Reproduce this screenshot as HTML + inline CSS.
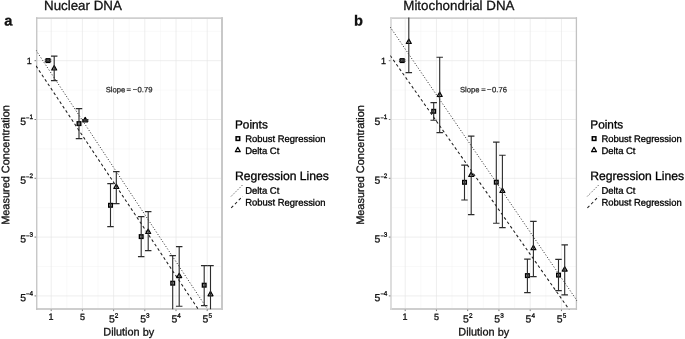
<!DOCTYPE html>
<html><head><meta charset="utf-8"><title>chart</title>
<style>
html,body{margin:0;padding:0;background:#fff;}
body{width:685px;height:339px;overflow:hidden;font-family:"Liberation Sans",sans-serif;}
svg{display:block;will-change:transform;font-family:"Liberation Sans",sans-serif;}
</style></head><body>
<svg text-rendering="geometricPrecision" width="685" height="339" viewBox="0 0 685 339">
<rect width="685" height="339" fill="#fff"/>
<text x="44.00" y="10.00" transform="rotate(0.05 44.00 10.00)" font-size="13.33" fill="#111" stroke="#111" stroke-width="0.3">Nuclear DNA</text>
<text x="403.30" y="10.00" transform="rotate(0.05 403.30 10.00)" font-size="13.33" fill="#111" stroke="#111" stroke-width="0.3">Mitochondrial DNA</text>
<text x="4.30" y="25.60" transform="rotate(0.05 4.30 25.60)" font-size="14.6" font-weight="bold" fill="#111" stroke="#111" stroke-width="0.3">a</text>
<text x="353.90" y="25.60" transform="rotate(0.05 353.90 25.60)" font-size="14.6" font-weight="bold" fill="#111" stroke="#111" stroke-width="0.3">b</text>
<text transform="translate(9.3,164.9) rotate(-89.95)" x="-59.95" y="0" font-size="10.95" fill="#111" stroke="#111" stroke-width="0.3">Measured Concentration</text>
<text transform="translate(364,164.9) rotate(-89.95)" x="-59.95" y="0" font-size="10.95" fill="#111" stroke="#111" stroke-width="0.3">Measured Concentration</text>
<text x="103.30" y="335.60" transform="rotate(0.05 103.30 335.60)" font-size="10.9" fill="#111" stroke="#111" stroke-width="0.3">Dilution by</text>
<text x="458.30" y="335.60" transform="rotate(0.05 458.30 335.60)" font-size="10.9" fill="#111" stroke="#111" stroke-width="0.3">Dilution by</text>
<rect x="36.7" y="18.2" width="185.4" height="290.6" fill="#fff"/>
<line x1="66.80" y1="18.2" x2="66.80" y2="308.8" stroke="#f3f3f3" stroke-width="0.5"/>
<line x1="98.00" y1="18.2" x2="98.00" y2="308.8" stroke="#f3f3f3" stroke-width="0.5"/>
<line x1="129.20" y1="18.2" x2="129.20" y2="308.8" stroke="#f3f3f3" stroke-width="0.5"/>
<line x1="160.40" y1="18.2" x2="160.40" y2="308.8" stroke="#f3f3f3" stroke-width="0.5"/>
<line x1="191.60" y1="18.2" x2="191.60" y2="308.8" stroke="#f3f3f3" stroke-width="0.5"/>
<line x1="36.7" y1="31.30" x2="222.10000000000002" y2="31.30" stroke="#f3f3f3" stroke-width="0.5"/>
<line x1="36.7" y1="90.10" x2="222.10000000000002" y2="90.10" stroke="#f3f3f3" stroke-width="0.5"/>
<line x1="36.7" y1="148.90" x2="222.10000000000002" y2="148.90" stroke="#f3f3f3" stroke-width="0.5"/>
<line x1="36.7" y1="207.70" x2="222.10000000000002" y2="207.70" stroke="#f3f3f3" stroke-width="0.5"/>
<line x1="36.7" y1="266.50" x2="222.10000000000002" y2="266.50" stroke="#f3f3f3" stroke-width="0.5"/>
<line x1="51.20" y1="18.2" x2="51.20" y2="308.8" stroke="#e4e4e4" stroke-width="0.65"/>
<line x1="82.40" y1="18.2" x2="82.40" y2="308.8" stroke="#e4e4e4" stroke-width="0.65"/>
<line x1="113.60" y1="18.2" x2="113.60" y2="308.8" stroke="#e4e4e4" stroke-width="0.65"/>
<line x1="144.80" y1="18.2" x2="144.80" y2="308.8" stroke="#e4e4e4" stroke-width="0.65"/>
<line x1="176.00" y1="18.2" x2="176.00" y2="308.8" stroke="#e4e4e4" stroke-width="0.65"/>
<line x1="207.20" y1="18.2" x2="207.20" y2="308.8" stroke="#e4e4e4" stroke-width="0.65"/>
<line x1="36.7" y1="60.70" x2="222.10000000000002" y2="60.70" stroke="#e4e4e4" stroke-width="0.65"/>
<line x1="36.7" y1="119.50" x2="222.10000000000002" y2="119.50" stroke="#e4e4e4" stroke-width="0.65"/>
<line x1="36.7" y1="178.30" x2="222.10000000000002" y2="178.30" stroke="#e4e4e4" stroke-width="0.65"/>
<line x1="36.7" y1="237.10" x2="222.10000000000002" y2="237.10" stroke="#e4e4e4" stroke-width="0.65"/>
<line x1="36.7" y1="295.90" x2="222.10000000000002" y2="295.90" stroke="#e4e4e4" stroke-width="0.65"/>
<path d="M36.10,18.1H223.00" fill="none" stroke="#cfcfcf" stroke-width="1.6"/>
<path d="M36.10,309.0H223.00" fill="none" stroke="#cecece" stroke-width="2"/>
<path d="M36.75,17.2V310" fill="none" stroke="#c2c2c2" stroke-width="1.3"/>
<path d="M222.0,17.2V310" fill="none" stroke="#c8c8c8" stroke-width="2.0"/>
<clipPath id="c36"><rect x="35.900000000000006" y="17.4" width="187.0" height="291.8"/></clipPath>
<g clip-path="url(#c36)">
<line x1="36.00" y1="65.90" x2="230.00" y2="356.90" stroke="#1e1e1e" stroke-width="1.05" stroke-dasharray="2.85,2.5"/>
<line x1="36.00" y1="50.29" x2="230.00" y2="343.23" stroke="#262626" stroke-width="1.0" stroke-dasharray="1.0,1.9"/>
<rect x="46.20" y="58.80" width="3.6" height="3.6" fill="#bbb" stroke="#000" stroke-width="1.4"/>
<path d="M54.20,65.60L56.70,70.00H51.70Z" fill="#bbb" stroke="#000" stroke-width="1.2" stroke-linejoin="round"/>
<rect x="77.20" y="121.80" width="3.6" height="3.6" fill="#bbb" stroke="#000" stroke-width="1.4"/>
<path d="M85.20,117.40L87.70,121.80H82.70Z" fill="#bbb" stroke="#000" stroke-width="1.2" stroke-linejoin="round"/>
<rect x="108.70" y="203.50" width="3.6" height="3.6" fill="#bbb" stroke="#000" stroke-width="1.4"/>
<path d="M116.30,184.10L118.80,188.50H113.80Z" fill="#bbb" stroke="#000" stroke-width="1.2" stroke-linejoin="round"/>
<rect x="139.40" y="234.80" width="3.6" height="3.6" fill="#bbb" stroke="#000" stroke-width="1.4"/>
<path d="M148.20,229.10L150.70,233.50H145.70Z" fill="#bbb" stroke="#000" stroke-width="1.2" stroke-linejoin="round"/>
<rect x="170.90" y="281.40" width="3.6" height="3.6" fill="#bbb" stroke="#000" stroke-width="1.4"/>
<path d="M179.20,273.20L181.70,277.60H176.70Z" fill="#bbb" stroke="#000" stroke-width="1.2" stroke-linejoin="round"/>
<rect x="202.40" y="283.40" width="3.6" height="3.6" fill="#bbb" stroke="#000" stroke-width="1.4"/>
<path d="M210.50,291.40L213.00,295.80H208.00Z" fill="#bbb" stroke="#000" stroke-width="1.2" stroke-linejoin="round"/>
<path d="M44.75,59.80H51.25M48.00,59.80V61.40M44.75,61.40H51.25" stroke="#2c2c2c" stroke-width="1.12" fill="none"/>
<path d="M50.95,56.10H57.45M54.20,56.10V80.60M50.95,80.60H57.45" stroke="#2c2c2c" stroke-width="1.12" fill="none"/>
<path d="M75.75,108.60H82.25M79.00,108.60V138.60M75.75,138.60H82.25" stroke="#2c2c2c" stroke-width="1.12" fill="none"/>
<path d="M81.95,119.50H88.45M85.20,119.50V120.90M81.95,120.90H88.45" stroke="#2c2c2c" stroke-width="1.12" fill="none"/>
<path d="M107.25,183.60H113.75M110.50,183.60V226.60M107.25,226.60H113.75" stroke="#2c2c2c" stroke-width="1.12" fill="none"/>
<path d="M113.05,171.60H119.55M116.30,171.60V203.60M113.05,203.60H119.55" stroke="#2c2c2c" stroke-width="1.12" fill="none"/>
<path d="M137.95,216.60H144.45M141.20,216.60V256.60M137.95,256.60H144.45" stroke="#2c2c2c" stroke-width="1.12" fill="none"/>
<path d="M144.95,211.60H151.45M148.20,211.60V250.60M144.95,250.60H151.45" stroke="#2c2c2c" stroke-width="1.12" fill="none"/>
<path d="M169.45,255.60H175.95M172.70,255.60V320.60M169.45,320.60H175.95" stroke="#2c2c2c" stroke-width="1.12" fill="none"/>
<path d="M175.95,246.60H182.45M179.20,246.60V306.30M175.95,306.30H182.45" stroke="#2c2c2c" stroke-width="1.12" fill="none"/>
<path d="M200.95,265.60H207.45M204.20,265.60V305.60M200.95,305.60H207.45" stroke="#2c2c2c" stroke-width="1.12" fill="none"/>
<path d="M207.25,265.60H213.75M210.50,265.60V320.60M207.25,320.60H213.75" stroke="#2c2c2c" stroke-width="1.12" fill="none"/>
</g>
<line x1="51.20" y1="309.6" x2="51.20" y2="311.1" stroke="#555" stroke-width="0.8"/>
<text x="48.50" y="319.80" transform="rotate(0.05 48.50 319.80)" font-size="9.0" fill="#111" stroke="#111" stroke-width="0.3">1</text>
<line x1="82.40" y1="309.6" x2="82.40" y2="311.1" stroke="#555" stroke-width="0.8"/>
<text x="79.90" y="319.90" transform="rotate(0.05 79.90 319.90)" font-size="9.0" fill="#111" stroke="#111" stroke-width="0.3">5</text>
<line x1="113.60" y1="309.6" x2="113.60" y2="311.1" stroke="#555" stroke-width="0.8"/>
<text x="108.98" y="322.60" transform="rotate(0.05 108.98 322.60)" font-size="10.4" fill="#111" stroke="#111" stroke-width="0.3">5</text><text x="114.86" y="317.70" transform="rotate(0.05 114.86 317.70)" font-size="6.4" fill="#111" stroke="#111" stroke-width="0.3">2</text>
<line x1="144.80" y1="309.6" x2="144.80" y2="311.1" stroke="#555" stroke-width="0.8"/>
<text x="140.18" y="322.60" transform="rotate(0.05 140.18 322.60)" font-size="10.4" fill="#111" stroke="#111" stroke-width="0.3">5</text><text x="146.06" y="317.70" transform="rotate(0.05 146.06 317.70)" font-size="6.4" fill="#111" stroke="#111" stroke-width="0.3">3</text>
<line x1="176.00" y1="309.6" x2="176.00" y2="311.1" stroke="#555" stroke-width="0.8"/>
<text x="171.38" y="322.60" transform="rotate(0.05 171.38 322.60)" font-size="10.4" fill="#111" stroke="#111" stroke-width="0.3">5</text><text x="177.26" y="317.70" transform="rotate(0.05 177.26 317.70)" font-size="6.4" fill="#111" stroke="#111" stroke-width="0.3">4</text>
<line x1="207.20" y1="309.6" x2="207.20" y2="311.1" stroke="#555" stroke-width="0.8"/>
<text x="202.58" y="322.60" transform="rotate(0.05 202.58 322.60)" font-size="10.4" fill="#111" stroke="#111" stroke-width="0.3">5</text><text x="208.46" y="317.70" transform="rotate(0.05 208.46 317.70)" font-size="6.4" fill="#111" stroke="#111" stroke-width="0.3">5</text>
<line x1="34.5" y1="60.70" x2="36.1" y2="60.70" stroke="#555" stroke-width="0.8"/>
<text x="26.79" y="64.10" transform="rotate(0.05 26.79 64.10)" font-size="9.0" fill="#111" stroke="#111" stroke-width="0.3">1</text>
<line x1="34.5" y1="119.50" x2="36.1" y2="119.50" stroke="#555" stroke-width="0.8"/>
<text x="20.19" y="124.90" transform="rotate(0.05 20.19 124.90)" font-size="10.4" fill="#111" stroke="#111" stroke-width="0.3">5</text><text transform="translate(26.08,120.00) scale(0.9,1)" font-size="6.4" fill="#111" stroke="#111" stroke-width="0.3">−</text><text x="29.44" y="119.10" transform="rotate(0.05 29.44 119.10)" font-size="6.4" fill="#111" stroke="#111" stroke-width="0.3">1</text>
<line x1="34.5" y1="178.30" x2="36.1" y2="178.30" stroke="#555" stroke-width="0.8"/>
<text x="20.19" y="183.70" transform="rotate(0.05 20.19 183.70)" font-size="10.4" fill="#111" stroke="#111" stroke-width="0.3">5</text><text transform="translate(26.08,178.80) scale(0.9,1)" font-size="6.4" fill="#111" stroke="#111" stroke-width="0.3">−</text><text x="29.44" y="177.90" transform="rotate(0.05 29.44 177.90)" font-size="6.4" fill="#111" stroke="#111" stroke-width="0.3">2</text>
<line x1="34.5" y1="237.10" x2="36.1" y2="237.10" stroke="#555" stroke-width="0.8"/>
<text x="20.19" y="242.50" transform="rotate(0.05 20.19 242.50)" font-size="10.4" fill="#111" stroke="#111" stroke-width="0.3">5</text><text transform="translate(26.08,237.60) scale(0.9,1)" font-size="6.4" fill="#111" stroke="#111" stroke-width="0.3">−</text><text x="29.44" y="236.70" transform="rotate(0.05 29.44 236.70)" font-size="6.4" fill="#111" stroke="#111" stroke-width="0.3">3</text>
<line x1="34.5" y1="295.90" x2="36.1" y2="295.90" stroke="#555" stroke-width="0.8"/>
<text x="20.19" y="301.30" transform="rotate(0.05 20.19 301.30)" font-size="10.4" fill="#111" stroke="#111" stroke-width="0.3">5</text><text transform="translate(26.08,296.40) scale(0.9,1)" font-size="6.4" fill="#111" stroke="#111" stroke-width="0.3">−</text><text x="29.44" y="295.50" transform="rotate(0.05 29.44 295.50)" font-size="6.4" fill="#111" stroke="#111" stroke-width="0.3">4</text>
<text x="105.76" y="92.20" transform="rotate(0.05 105.76 92.20)" font-size="7.65" fill="#222" stroke="#222" stroke-width="0.22">Slope</text>
<text x="126.53" y="92.20" transform="rotate(0.05 126.53 92.20)" font-size="7.65" fill="#222" stroke="#222" stroke-width="0.22">=</text>
<text x="132.67" y="92.20" transform="rotate(0.05 132.67 92.20)" font-size="7.65" fill="#222" stroke="#222" stroke-width="0.22">−</text>
<text x="137.55" y="92.20" transform="rotate(0.05 137.55 92.20)" font-size="7.65" fill="#222" stroke="#222" stroke-width="0.22">0.79</text>
<rect x="391.0" y="18.2" width="185.4" height="290.6" fill="#fff"/>
<line x1="420.82" y1="18.2" x2="420.82" y2="308.8" stroke="#f3f3f3" stroke-width="0.5"/>
<line x1="452.07" y1="18.2" x2="452.07" y2="308.8" stroke="#f3f3f3" stroke-width="0.5"/>
<line x1="483.32" y1="18.2" x2="483.32" y2="308.8" stroke="#f3f3f3" stroke-width="0.5"/>
<line x1="514.58" y1="18.2" x2="514.58" y2="308.8" stroke="#f3f3f3" stroke-width="0.5"/>
<line x1="545.83" y1="18.2" x2="545.83" y2="308.8" stroke="#f3f3f3" stroke-width="0.5"/>
<line x1="391.0" y1="31.30" x2="576.4" y2="31.30" stroke="#f3f3f3" stroke-width="0.5"/>
<line x1="391.0" y1="90.10" x2="576.4" y2="90.10" stroke="#f3f3f3" stroke-width="0.5"/>
<line x1="391.0" y1="148.90" x2="576.4" y2="148.90" stroke="#f3f3f3" stroke-width="0.5"/>
<line x1="391.0" y1="207.70" x2="576.4" y2="207.70" stroke="#f3f3f3" stroke-width="0.5"/>
<line x1="391.0" y1="266.50" x2="576.4" y2="266.50" stroke="#f3f3f3" stroke-width="0.5"/>
<line x1="405.20" y1="18.2" x2="405.20" y2="308.8" stroke="#e4e4e4" stroke-width="0.65"/>
<line x1="436.45" y1="18.2" x2="436.45" y2="308.8" stroke="#e4e4e4" stroke-width="0.65"/>
<line x1="467.70" y1="18.2" x2="467.70" y2="308.8" stroke="#e4e4e4" stroke-width="0.65"/>
<line x1="498.95" y1="18.2" x2="498.95" y2="308.8" stroke="#e4e4e4" stroke-width="0.65"/>
<line x1="530.20" y1="18.2" x2="530.20" y2="308.8" stroke="#e4e4e4" stroke-width="0.65"/>
<line x1="561.45" y1="18.2" x2="561.45" y2="308.8" stroke="#e4e4e4" stroke-width="0.65"/>
<line x1="391.0" y1="60.70" x2="576.4" y2="60.70" stroke="#e4e4e4" stroke-width="0.65"/>
<line x1="391.0" y1="119.50" x2="576.4" y2="119.50" stroke="#e4e4e4" stroke-width="0.65"/>
<line x1="391.0" y1="178.30" x2="576.4" y2="178.30" stroke="#e4e4e4" stroke-width="0.65"/>
<line x1="391.0" y1="237.10" x2="576.4" y2="237.10" stroke="#e4e4e4" stroke-width="0.65"/>
<line x1="391.0" y1="295.90" x2="576.4" y2="295.90" stroke="#e4e4e4" stroke-width="0.65"/>
<path d="M390.15,18.1H577.05" fill="none" stroke="#cfcfcf" stroke-width="1.6"/>
<path d="M390.15,309.0H577.05" fill="none" stroke="#cecece" stroke-width="2"/>
<path d="M391.0,17.2V310" fill="none" stroke="#d8d8d8" stroke-width="1.7"/>
<path d="M576.4,17.2V310" fill="none" stroke="#c2c2c2" stroke-width="1.3"/>
<clipPath id="c391"><rect x="390.2" y="17.4" width="187.0" height="291.8"/></clipPath>
<g clip-path="url(#c391)">
<line x1="390.20" y1="55.49" x2="590.00" y2="339.21" stroke="#1e1e1e" stroke-width="1.05" stroke-dasharray="2.85,2.5"/>
<line x1="390.20" y1="27.03" x2="590.00" y2="319.73" stroke="#262626" stroke-width="1.0" stroke-dasharray="1.0,1.9"/>
<rect x="400.40" y="58.80" width="3.6" height="3.6" fill="#bbb" stroke="#000" stroke-width="1.4"/>
<path d="M408.80,39.10L411.30,43.50H406.30Z" fill="#bbb" stroke="#000" stroke-width="1.2" stroke-linejoin="round"/>
<rect x="431.90" y="109.50" width="3.6" height="3.6" fill="#bbb" stroke="#000" stroke-width="1.4"/>
<path d="M439.70,92.10L442.20,96.50H437.20Z" fill="#bbb" stroke="#000" stroke-width="1.2" stroke-linejoin="round"/>
<rect x="462.70" y="180.50" width="3.6" height="3.6" fill="#bbb" stroke="#000" stroke-width="1.4"/>
<path d="M471.20,172.10L473.70,176.50H468.70Z" fill="#bbb" stroke="#000" stroke-width="1.2" stroke-linejoin="round"/>
<rect x="494.50" y="180.40" width="3.6" height="3.6" fill="#bbb" stroke="#000" stroke-width="1.4"/>
<path d="M502.40,188.10L504.90,192.50H499.90Z" fill="#bbb" stroke="#000" stroke-width="1.2" stroke-linejoin="round"/>
<rect x="525.60" y="273.80" width="3.6" height="3.6" fill="#bbb" stroke="#000" stroke-width="1.4"/>
<path d="M533.40,245.30L535.90,249.70H530.90Z" fill="#bbb" stroke="#000" stroke-width="1.2" stroke-linejoin="round"/>
<rect x="556.70" y="273.30" width="3.6" height="3.6" fill="#bbb" stroke="#000" stroke-width="1.4"/>
<path d="M564.70,266.70L567.20,271.10H562.20Z" fill="#bbb" stroke="#000" stroke-width="1.2" stroke-linejoin="round"/>
<path d="M398.95,59.80H405.45M402.20,59.80V61.40M398.95,61.40H405.45" stroke="#2c2c2c" stroke-width="1.12" fill="none"/>
<path d="M405.55,5.60H412.05M408.80,5.60V72.60M405.55,72.60H412.05" stroke="#2c2c2c" stroke-width="1.12" fill="none"/>
<path d="M430.45,102.60H436.95M433.70,102.60V120.20M430.45,120.20H436.95" stroke="#2c2c2c" stroke-width="1.12" fill="none"/>
<path d="M436.45,57.20H442.95M439.70,57.20V132.60M436.45,132.60H442.95" stroke="#2c2c2c" stroke-width="1.12" fill="none"/>
<path d="M461.25,165.10H467.75M464.50,165.10V200.00M461.25,200.00H467.75" stroke="#2c2c2c" stroke-width="1.12" fill="none"/>
<path d="M467.95,136.10H474.45M471.20,136.10V214.60M467.95,214.60H474.45" stroke="#2c2c2c" stroke-width="1.12" fill="none"/>
<path d="M493.05,142.10H499.55M496.30,142.10V223.20M493.05,223.20H499.55" stroke="#2c2c2c" stroke-width="1.12" fill="none"/>
<path d="M499.15,155.20H505.65M502.40,155.20V227.60M499.15,227.60H505.65" stroke="#2c2c2c" stroke-width="1.12" fill="none"/>
<path d="M524.15,259.10H530.65M527.40,259.10V292.60M524.15,292.60H530.65" stroke="#2c2c2c" stroke-width="1.12" fill="none"/>
<path d="M530.15,221.35H536.65M533.40,221.35V276.60M530.15,276.60H536.65" stroke="#2c2c2c" stroke-width="1.12" fill="none"/>
<path d="M555.25,259.35H561.75M558.50,259.35V290.60M555.25,290.60H561.75" stroke="#2c2c2c" stroke-width="1.12" fill="none"/>
<path d="M561.45,244.85H567.95M564.70,244.85V294.85M561.45,294.85H567.95" stroke="#2c2c2c" stroke-width="1.12" fill="none"/>
</g>
<line x1="405.20" y1="309.6" x2="405.20" y2="311.1" stroke="#555" stroke-width="0.8"/>
<text x="402.50" y="319.80" transform="rotate(0.05 402.50 319.80)" font-size="9.0" fill="#111" stroke="#111" stroke-width="0.3">1</text>
<line x1="436.45" y1="309.6" x2="436.45" y2="311.1" stroke="#555" stroke-width="0.8"/>
<text x="433.95" y="319.90" transform="rotate(0.05 433.95 319.90)" font-size="9.0" fill="#111" stroke="#111" stroke-width="0.3">5</text>
<line x1="467.70" y1="309.6" x2="467.70" y2="311.1" stroke="#555" stroke-width="0.8"/>
<text x="463.08" y="322.60" transform="rotate(0.05 463.08 322.60)" font-size="10.4" fill="#111" stroke="#111" stroke-width="0.3">5</text><text x="468.96" y="317.70" transform="rotate(0.05 468.96 317.70)" font-size="6.4" fill="#111" stroke="#111" stroke-width="0.3">2</text>
<line x1="498.95" y1="309.6" x2="498.95" y2="311.1" stroke="#555" stroke-width="0.8"/>
<text x="494.33" y="322.60" transform="rotate(0.05 494.33 322.60)" font-size="10.4" fill="#111" stroke="#111" stroke-width="0.3">5</text><text x="500.21" y="317.70" transform="rotate(0.05 500.21 317.70)" font-size="6.4" fill="#111" stroke="#111" stroke-width="0.3">3</text>
<line x1="530.20" y1="309.6" x2="530.20" y2="311.1" stroke="#555" stroke-width="0.8"/>
<text x="525.58" y="322.60" transform="rotate(0.05 525.58 322.60)" font-size="10.4" fill="#111" stroke="#111" stroke-width="0.3">5</text><text x="531.46" y="317.70" transform="rotate(0.05 531.46 317.70)" font-size="6.4" fill="#111" stroke="#111" stroke-width="0.3">4</text>
<line x1="561.45" y1="309.6" x2="561.45" y2="311.1" stroke="#555" stroke-width="0.8"/>
<text x="556.83" y="322.60" transform="rotate(0.05 556.83 322.60)" font-size="10.4" fill="#111" stroke="#111" stroke-width="0.3">5</text><text x="562.71" y="317.70" transform="rotate(0.05 562.71 317.70)" font-size="6.4" fill="#111" stroke="#111" stroke-width="0.3">5</text>
<line x1="388.8" y1="60.70" x2="390.4" y2="60.70" stroke="#555" stroke-width="0.8"/>
<text x="381.09" y="64.10" transform="rotate(0.05 381.09 64.10)" font-size="9.0" fill="#111" stroke="#111" stroke-width="0.3">1</text>
<line x1="388.8" y1="119.50" x2="390.4" y2="119.50" stroke="#555" stroke-width="0.8"/>
<text x="374.49" y="124.90" transform="rotate(0.05 374.49 124.90)" font-size="10.4" fill="#111" stroke="#111" stroke-width="0.3">5</text><text transform="translate(380.38,120.00) scale(0.9,1)" font-size="6.4" fill="#111" stroke="#111" stroke-width="0.3">−</text><text x="383.74" y="119.10" transform="rotate(0.05 383.74 119.10)" font-size="6.4" fill="#111" stroke="#111" stroke-width="0.3">1</text>
<line x1="388.8" y1="178.30" x2="390.4" y2="178.30" stroke="#555" stroke-width="0.8"/>
<text x="374.49" y="183.70" transform="rotate(0.05 374.49 183.70)" font-size="10.4" fill="#111" stroke="#111" stroke-width="0.3">5</text><text transform="translate(380.38,178.80) scale(0.9,1)" font-size="6.4" fill="#111" stroke="#111" stroke-width="0.3">−</text><text x="383.74" y="177.90" transform="rotate(0.05 383.74 177.90)" font-size="6.4" fill="#111" stroke="#111" stroke-width="0.3">2</text>
<line x1="388.8" y1="237.10" x2="390.4" y2="237.10" stroke="#555" stroke-width="0.8"/>
<text x="374.49" y="242.50" transform="rotate(0.05 374.49 242.50)" font-size="10.4" fill="#111" stroke="#111" stroke-width="0.3">5</text><text transform="translate(380.38,237.60) scale(0.9,1)" font-size="6.4" fill="#111" stroke="#111" stroke-width="0.3">−</text><text x="383.74" y="236.70" transform="rotate(0.05 383.74 236.70)" font-size="6.4" fill="#111" stroke="#111" stroke-width="0.3">3</text>
<line x1="388.8" y1="295.90" x2="390.4" y2="295.90" stroke="#555" stroke-width="0.8"/>
<text x="374.49" y="301.30" transform="rotate(0.05 374.49 301.30)" font-size="10.4" fill="#111" stroke="#111" stroke-width="0.3">5</text><text transform="translate(380.38,296.40) scale(0.9,1)" font-size="6.4" fill="#111" stroke="#111" stroke-width="0.3">−</text><text x="383.74" y="295.50" transform="rotate(0.05 383.74 295.50)" font-size="6.4" fill="#111" stroke="#111" stroke-width="0.3">4</text>
<text x="459.94" y="92.20" transform="rotate(0.05 459.94 92.20)" font-size="7.65" fill="#222" stroke="#222" stroke-width="0.22">Slope</text>
<text x="481.18" y="92.20" transform="rotate(0.05 481.18 92.20)" font-size="7.65" fill="#222" stroke="#222" stroke-width="0.22">=</text>
<text x="486.97" y="92.20" transform="rotate(0.05 486.97 92.20)" font-size="7.65" fill="#222" stroke="#222" stroke-width="0.22">−</text>
<text x="492.05" y="92.20" transform="rotate(0.05 492.05 92.20)" font-size="7.65" fill="#222" stroke="#222" stroke-width="0.22">0.76</text>
<text x="235.00" y="128.50" transform="rotate(0.05 235.00 128.50)" font-size="11.8" fill="#000" stroke="#000" stroke-width="0.3">Points</text>
<rect x="236.1" y="136.79999999999998" width="3.6" height="3.6" fill="#eee" stroke="#000" stroke-width="1.5"/>
<path d="M237.80,147.30L240.30,151.70H235.30Z" fill="#e8e8e8" stroke="#000" stroke-width="1.2" stroke-linejoin="round"/>
<text x="245.20" y="141.90" transform="rotate(0.05 245.20 141.90)" font-size="9.45" fill="#000" stroke="#000" stroke-width="0.3">Robust Regression</text>
<text x="245.20" y="154.00" transform="rotate(0.05 245.20 154.00)" font-size="9.45" fill="#000" stroke="#000" stroke-width="0.3">Delta Ct</text>
<text x="235.00" y="180.00" transform="rotate(0.05 235.00 180.00)" font-size="12.15" fill="#000" stroke="#000" stroke-width="0.3">Regression Lines</text>
<line x1="231.2" y1="196.3" x2="242.7" y2="184.8" stroke="#262626" stroke-width="1.0" stroke-dasharray="1.0,1.9"/>
<line x1="231.2" y1="207.8" x2="242.7" y2="196.3" stroke="#1e1e1e" stroke-width="1.05" stroke-dasharray="2.85,2.5"/>
<text x="245.20" y="193.80" transform="rotate(0.05 245.20 193.80)" font-size="9.45" fill="#000" stroke="#000" stroke-width="0.3">Delta Ct</text>
<text x="245.20" y="205.60" transform="rotate(0.05 245.20 205.60)" font-size="9.45" fill="#000" stroke="#000" stroke-width="0.3">Robust Regression</text>
<text x="590.30" y="128.50" transform="rotate(0.05 590.30 128.50)" font-size="11.8" fill="#000" stroke="#000" stroke-width="0.3">Points</text>
<rect x="592.3" y="136.79999999999998" width="3.6" height="3.6" fill="#eee" stroke="#000" stroke-width="1.5"/>
<path d="M594.00,147.30L596.50,151.70H591.50Z" fill="#e8e8e8" stroke="#000" stroke-width="1.2" stroke-linejoin="round"/>
<text x="601.40" y="141.90" transform="rotate(0.05 601.40 141.90)" font-size="9.45" fill="#000" stroke="#000" stroke-width="0.3">Robust Regression</text>
<text x="601.40" y="154.00" transform="rotate(0.05 601.40 154.00)" font-size="9.45" fill="#000" stroke="#000" stroke-width="0.3">Delta Ct</text>
<text x="590.30" y="180.00" transform="rotate(0.05 590.30 180.00)" font-size="12.15" fill="#000" stroke="#000" stroke-width="0.3">Regression Lines</text>
<line x1="587.4" y1="196.3" x2="598.9" y2="184.8" stroke="#262626" stroke-width="1.0" stroke-dasharray="1.0,1.9"/>
<line x1="587.4" y1="207.8" x2="598.9" y2="196.3" stroke="#1e1e1e" stroke-width="1.05" stroke-dasharray="2.85,2.5"/>
<text x="601.40" y="193.80" transform="rotate(0.05 601.40 193.80)" font-size="9.45" fill="#000" stroke="#000" stroke-width="0.3">Delta Ct</text>
<text x="601.40" y="205.60" transform="rotate(0.05 601.40 205.60)" font-size="9.45" fill="#000" stroke="#000" stroke-width="0.3">Robust Regression</text>
</svg>
</body></html>
